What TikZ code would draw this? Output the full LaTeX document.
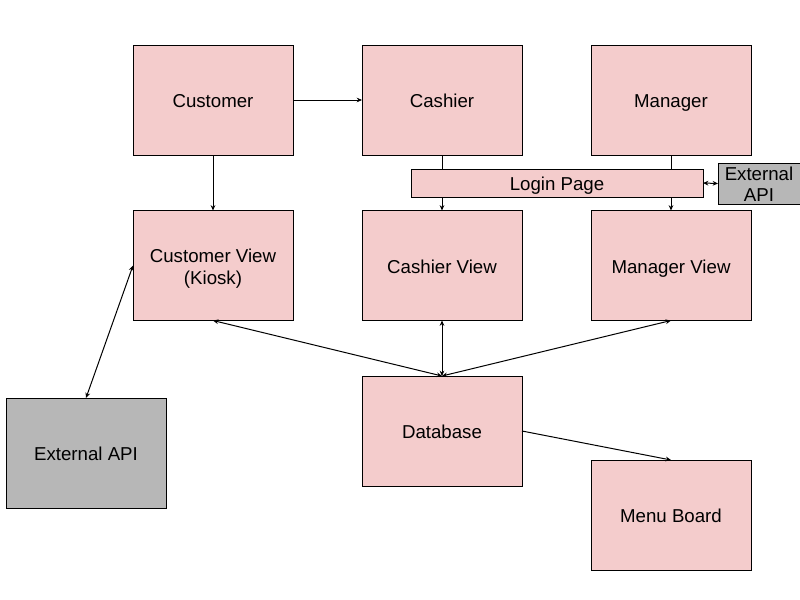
\documentclass[tikz,border=0pt]{standalone}
\usepackage{fontspec}
\setmainfont{Liberation Sans}
\usetikzlibrary{arrows.meta}
\definecolor{pinkfill}{HTML}{F4CCCC}
\definecolor{grayfill}{HTML}{B7B7B7}
\begin{document}
\begin{tikzpicture}[x=0.75pt,y=-0.75pt,
  box/.style={draw=black,line width=0.75pt,fill=pinkfill,minimum width=120pt,minimum height=82.5pt,inner sep=0pt,outer sep=0pt,font=\fontsize{14}{16}\selectfont,text height=13pt,text depth=1.5pt},
  mbox/.style={draw=black,line width=0.75pt,fill=pinkfill,minimum width=120pt,minimum height=82.5pt,inner sep=0pt,outer sep=0pt},
  mtext/.style={font=\fontsize{14}{16.5}\selectfont,align=center,inner sep=0pt},
  gbox/.style={box,fill=grayfill},
  conn/.style={line width=0.75pt},
  tip/.tip={Stealth[length=4pt,width=3.5pt]}]
\useasboundingbox (0,0) rectangle (800,600);
\node[box] (cust) at (213,100) {Customer};
\node[box] (cash) at (442,100) {Cashier};
\node[box] (mgr) at (671,100) {Manager};
\node[mbox,label={[mtext,yshift=-2.25pt]center:{Customer View\\(Kiosk)}}] (cv) at (213,265.5) {};
\node[box] (chv) at (442,265.5) {Cashier View};
\node[box] (mv) at (671,265.5) {Manager View};
\node[box,minimum width=219pt,minimum height=21pt] (login) at (557,183) {Login Page};
\node[mbox,fill=grayfill,minimum width=61.5pt,minimum height=30.75pt,label={[mtext,font=\fontsize{14}{15.75}\selectfont,yshift=-0.75pt]center:{External\\API}}] (extS) at (759,183.5) {};
\node[gbox] (extB) at (86,453) {External API};
\node[box] (db) at (442,431) {Database};
\node[box] (mb) at (671,515) {Menu Board};
\draw[conn,-tip] (cust.east) -- (cash.west);
\draw[conn,-tip] (cust.south) -- (cv.north);
\draw[conn] (cash.south) -- (cash.south |- login.north);
\draw[conn,-tip] (cash.south |- login.south) -- (chv.north);
\draw[conn] (mgr.south) -- (mgr.south |- login.north);
\draw[conn,-tip] (mgr.south |- login.south) -- (mv.north);
\draw[conn,tip-tip] (login.east) -- (extS.west);
\draw[conn,tip-tip] (cv.west) -- (extB.north);
\draw[conn,tip-tip] (db.north) -- (cv.south);
\draw[conn,tip-tip] (db.north) -- (chv.south);
\draw[conn,tip-tip] (db.north) -- (mv.south);
\draw[conn,-tip] (db.east) -- (mb.north);
\end{tikzpicture}
\end{document}
